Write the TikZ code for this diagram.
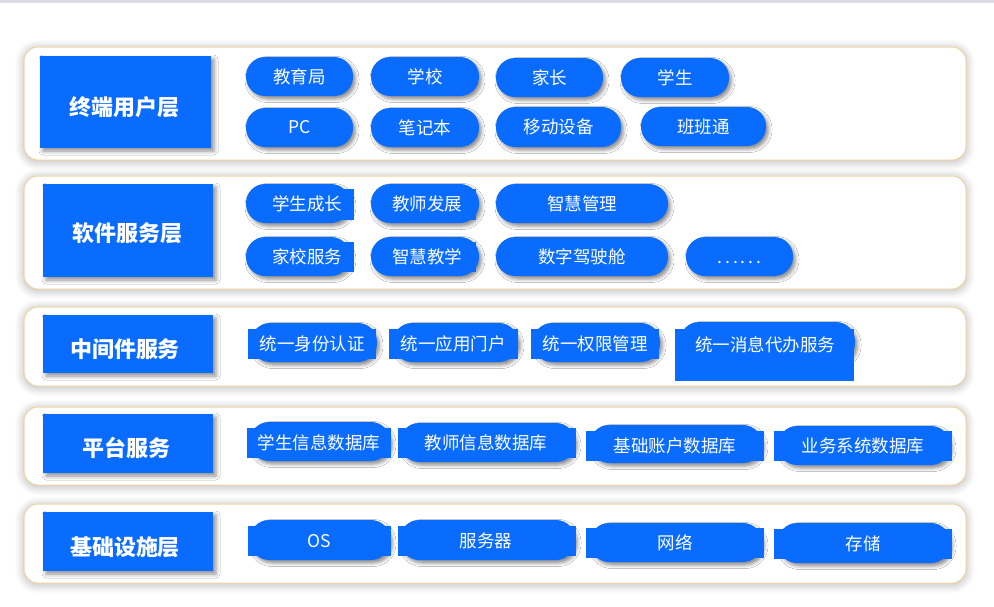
\documentclass[tikz,border=0pt]{standalone}
\usepackage{fontspec}
\newfontfamily\cjk{Noto Sans CJK SC}
\usetikzlibrary{shadows.blur}
\definecolor{bblue}{RGB}{10,108,255}
\definecolor{lborder}{RGB}{240,212,162}
\definecolor{topbar}{RGB}{218,222,226}
\begin{document}
\begin{tikzpicture}[x=1pt,y=-1pt,
 layer/.style={draw=lborder, line width=1pt, fill=white, rounded corners=14pt,
   blur shadow={shadow xshift=0pt, shadow yshift=-1.5pt, shadow blur radius=9pt, shadow opacity=30, shadow blur steps=10}},
 titlebox/.style={fill=bblue, inner sep=0pt,
   blur shadow={shadow xshift=3pt, shadow yshift=-3pt, shadow blur radius=4pt, shadow opacity=45}},
 titletext/.style={text=white, inner sep=0pt, font=\cjk\bfseries\fontsize{22}{26}\selectfont},
 pill/.style={fill=bblue, rounded corners=19pt, inner sep=0pt,
   blur shadow={shadow xshift=2.5pt, shadow yshift=-3pt, shadow blur radius=3.5pt, shadow opacity=45}},
 patch/.style={fill=bblue},
 ptext/.style={text=white, inner sep=0pt, font=\cjk\fontsize{17.5}{20}\selectfont},
]
\useasboundingbox (0,0) rectangle (994,606);
\fill[topbar] (0,0) rectangle (994,2.5);

% layers
\path[layer] (24,47) rectangle (966,160);
\path[layer] (24,176) rectangle (966,289);
\path[layer] (24,307) rectangle (966,386);
\path[layer] (24,407) rectangle (966,485);
\path[layer] (24,504) rectangle (966,583);

% titles
\node[titlebox, minimum width=171pt, minimum height=92pt] (t1) at (125.5,102) {};
\node[titletext] (t1l) at (124,107) {终端用户层};
\node[titlebox, minimum width=170pt, minimum height=93pt] (t2) at (128,230.5) {};
\node[titletext] (t2l) at (127,233) {软件服务层};
\node[titlebox, minimum width=170pt, minimum height=58pt] (t3) at (128,344) {};
\node[titletext] (t3l) at (125,349) {中间件服务};
\node[titlebox, minimum width=170pt, minimum height=59pt] (t4) at (128,443.5) {};
\node[titletext] (t4l) at (126,448) {平台服务};
\node[titlebox, minimum width=170pt, minimum height=59pt] (t5) at (128,541.5) {};
\node[titletext] (t5l) at (125,547) {基础设施层};

% layer 1
\node[pill, ptext, minimum width=107pt, minimum height=39pt] (u1) at (299.5,76.5) {教育局};
\node[pill, ptext, minimum width=108pt, minimum height=39pt] (u2) at (425,76.5) {学校};
\node[pill, ptext, minimum width=107pt, minimum height=39pt] (u3) at (549.5,77.5) {家长};
\node[pill, ptext, minimum width=108pt, minimum height=39pt] (u4) at (675,77.5) {学生};
\node[pill, ptext, minimum width=107pt, minimum height=39pt] (u5) at (299.5,127.5) {PC};
\node[pill, ptext, minimum width=108pt, minimum height=39pt] (u6) at (425,127.5) {笔记本};
\node[pill, ptext, minimum width=125pt, minimum height=40pt] (u7) at (558.5,127) {移动设备};
\node[pill, ptext, minimum width=125pt, minimum height=39pt] (u8) at (703.5,126.5) {班班通};

% layer 2
\path[pill] (246,184) rectangle (350,223);
\path[patch] (262,189) rectangle (354,220);
\node[ptext] (s1) at (307,203.5) {学生成长};
\path[pill] (371,184) rectangle (479,223);
\path[patch] (390,189) rectangle (476,220);
\node[ptext] (s2) at (427,203.5) {教师发展};
\node[pill, ptext, minimum width=172pt, minimum height=39pt] (s3) at (582,203.5) {智慧管理};
\path[pill] (246,237) rectangle (350,276);
\path[patch] (262,242) rectangle (354,272);
\node[ptext] (s4) at (307,256.5) {家校服务};
\path[pill] (371,237) rectangle (479,276);
\path[patch] (390,242) rectangle (476,272);
\node[ptext] (s5) at (427,256.5) {智慧教学};
\node[pill, ptext, minimum width=172pt, minimum height=39pt] (s6) at (582,256.5) {数字驾驶舱};
\node[pill, ptext, minimum width=107pt, minimum height=39pt] (s7) at (739.5,256.5) {\vphantom{学}.\,.\,.\,.\,.\,.};

% layer 3
\path[pill] (251,323) rectangle (377,362);
\path[patch] (248,329) rectangle (376,359);
\node[ptext] (m1) at (312,344) {统一身份认证};
\path[pill] (393,323) rectangle (518,362);
\path[patch] (389,329) rectangle (518,359);
\node[ptext] (m2) at (453,344) {统一应用门户};
\path[pill] (533,323) rectangle (660,362);
\path[patch] (531,329) rectangle (659,359);
\node[ptext] (m3) at (595,344) {统一权限管理};
\path[pill] (680,322) rectangle (855,362);
\path[patch] (675,329) rectangle (854,381);
\node[ptext] (m4) at (765,345) {统一消息代办服务};

% layer 4
\path[pill] (250,422) rectangle (390,461);
\path[patch] (247,428) rectangle (391,458);
\node[ptext] (d1) at (319,443) {学生信息数据库};
\path[pill] (400,423) rectangle (575,462);
\path[patch] (398,428) rectangle (576,458);
\node[ptext] (d2) at (486,443) {教师信息数据库};
\path[pill] (590,425) rectangle (762,463);
\path[patch] (586,431) rectangle (764,461);
\node[ptext] (d3) at (675,446) {基础账户数据库};
\path[pill] (778,426) rectangle (950,465);
\path[patch] (774,431) rectangle (952,461);
\node[ptext] (d4) at (863,446) {业务系统数据库};

% layer 5
\path[pill] (250,520) rectangle (390,560);
\path[patch] (248,526) rectangle (391,556);
\node[ptext] (i1) at (319,541) {OS};
\path[pill] (400,520) rectangle (575,560);
\path[patch] (398,526) rectangle (576,556);
\node[ptext] (i2) at (486,541) {服务器};
\path[pill] (590,523) rectangle (762,562);
\path[patch] (586,528) rectangle (764,558);
\node[ptext] (i3) at (675,543) {网络};
\path[pill] (778,523) rectangle (950,563);
\path[patch] (774,529) rectangle (952,559);
\node[ptext] (i4) at (863,544) {存储};
\end{tikzpicture}
\end{document}
